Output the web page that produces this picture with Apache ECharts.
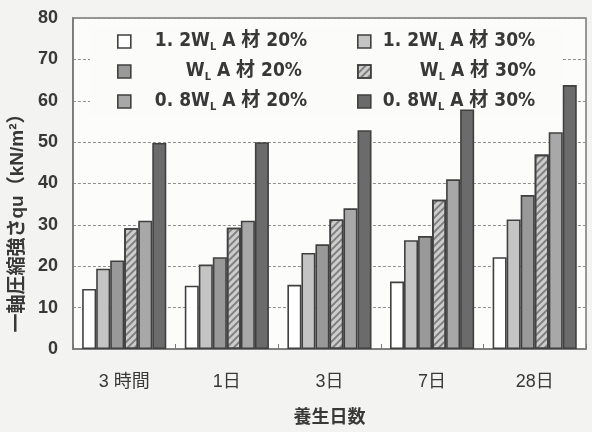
<!DOCTYPE html>
<html>
<head>
<meta charset="utf-8">
<script src="https://cdn.jsdelivr.net/npm/echarts@6/dist/echarts.min.js"></script>
<style>
  html, body { margin: 0; padding: 0; background: #f3f3f1; }
  #chart { width: 592px; height: 432px; }
</style>
</head>
<body>
<div id="chart"></div>
<script>
// Curing periods along the x axis
const categories = ['3 時間', '1日', '3日', '7日', '28日'];

// Unconfined compressive strength qu (kN/m2) per mix
const s12WL20 = [14.5, 15.3, 15.5, 16.3, 22.2];
const s12WL30 = [19.4, 20.4, 23.2, 26.3, 31.3];
const sWL20   = [21.4, 22.2, 25.3, 27.3, 37.2];
const sWL30   = [29.2, 29.3, 31.3, 36.1, 47.0];
const s08WL20 = [31.0, 31.0, 34.0, 41.0, 52.4];
const s08WL30 = [49.8, 50.0, 52.9, 57.9, 63.8];

const yTicks = { min: 0, max: 80, interval: 10 };

const FONT = '"Liberation Sans", "Noto Sans CJK JP", sans-serif';
const NARROW = '"Liberation Sans Narrow", "DejaVu Sans Condensed", "Liberation Sans", "Noto Sans CJK JP", sans-serif';
const EDGE = '#404040';
const INK = '#383838';

// Legend labels: ratio prefix, then W with subscript L, then the rest
const names = ['1.2WL20', '1.2WL30', 'WL20', 'WL30', '0.8WL20', '0.8WL30'];
const legendPre = { '1.2WL20': '1. 2', '1.2WL30': '1. 2', 'WL20': '', 'WL30': '', '0.8WL20': '0. 8', '0.8WL30': '0. 8' };
const legendPost = { '1.2WL20': ' A 材 20%', '1.2WL30': ' A 材 30%', 'WL20': ' A 材 20%', 'WL30': ' A 材 30%', '0.8WL20': ' A 材 20%', '0.8WL30': ' A 材 30%' };

const styles = [
  { color: '#ffffff' },
  { color: '#c4c4c4' },
  { color: '#999999' },
  { color: '#cdcdcd', decal: { symbol: 'rect', symbolSize: 1, dashArrayX: [1, 0], dashArrayY: [1.5, 2.5], rotation: -Math.PI / 4, color: 'rgba(95,95,95,0.7)' } },
  { color: '#a8a8a8' },
  { color: '#6b6b6b' }
];
const values = [s12WL20, s12WL30, sWL20, sWL30, s08WL20, s08WL30];

const series = names.map((n, i) => ({
  name: n,
  type: 'bar',
  data: values[i],
  barCategoryGap: '18%',
  barGap: '0%',
  itemStyle: Object.assign({ borderColor: EDGE, borderWidth: 1.6 }, styles[i]),
  z: 3
}));

// gapPre: space before a ratio prefix; gapBare: space before a bare W
function legendOf(data, left, gapPre, gapBare, padRight) {
  return {
    data: data,
    orient: 'vertical',
    left: left,
    top: 26,
    padding: [4, padRight, 2, 27],
    itemWidth: 13,
    itemHeight: 13,
    itemGap: 7,
    icon: 'rect',
    backgroundColor: '#fbfbfa',
    z: 1,
    itemStyle: { borderColor: EDGE, borderWidth: 1.6 },
    formatter: n => (legendPre[n] ? '{g|}{m|' + legendPre[n] + '}' : '{b|}') +
      '{m|W}{s|L}{m|' + legendPost[n] + '}',
    textStyle: {
      color: INK,
      fontFamily: NARROW,
      rich: {
        g: { width: gapPre, fontSize: 19, lineHeight: 22 },
        b: { width: gapBare, fontSize: 19, lineHeight: 22 },
        m: { fontSize: 19, lineHeight: 22, fontFamily: NARROW, fontWeight: 'bold', color: INK },
        s: { fontSize: 11, lineHeight: 22, fontFamily: NARROW, fontWeight: 'bold', color: INK, padding: [12, 0, 0, 0] }
      }
    }
  };
}

const chart = echarts.init(document.getElementById('chart'), null, { renderer: 'canvas' });
chart.setOption({
  backgroundColor: '#f3f3f1',
  animation: false,
  aria: { enabled: false, decal: { show: false } },
  grid: { left: 72, right: 6, top: 18, bottom: 77, show: true, backgroundColor: '#fcfcfb', borderColor: '#777', borderWidth: 1.5 },
  legend: [
    legendOf(['1.2WL20', 'WL20', '0.8WL20'], 90, 19, 50, 44),
    legendOf(['1.2WL30', 'WL30', '0.8WL30'], 330, 7, 44, 26)
  ],
  xAxis: {
    type: 'category',
    data: categories,
    name: '養生日数',
    nameLocation: 'middle',
    nameGap: 60,
    nameTextStyle: { fontSize: 18, fontWeight: 'bold', color: INK, fontFamily: FONT },
    axisLine: { lineStyle: { color: '#777', width: 1.5 } },
    axisTick: { show: true, inside: true, length: 5, lineStyle: { color: '#777' } },
    axisLabel: { fontSize: 18, color: INK, margin: 24, fontFamily: FONT }
  },
  yAxis: {
    type: 'value',
    min: yTicks.min,
    max: yTicks.max,
    interval: yTicks.interval,
    name: '一軸圧縮強さqu（kN/m²）',
    nameLocation: 'middle',
    nameRotate: 90,
    nameGap: 40,
    nameTextStyle: { fontSize: 19, fontWeight: 'bold', color: INK, fontFamily: FONT, padding: [0, 70, 0, 0] },
    axisLine: { show: true, lineStyle: { color: '#777', width: 1.5 } },
    axisTick: { show: false },
    axisLabel: { fontSize: 18, fontWeight: 'bold', color: INK, margin: 15, fontFamily: FONT },
    splitLine: { show: true, lineStyle: { color: '#8f8f8f', type: [3, 2], width: 1 } }
  },
  series: series
});
</script>
</body>
</html>
